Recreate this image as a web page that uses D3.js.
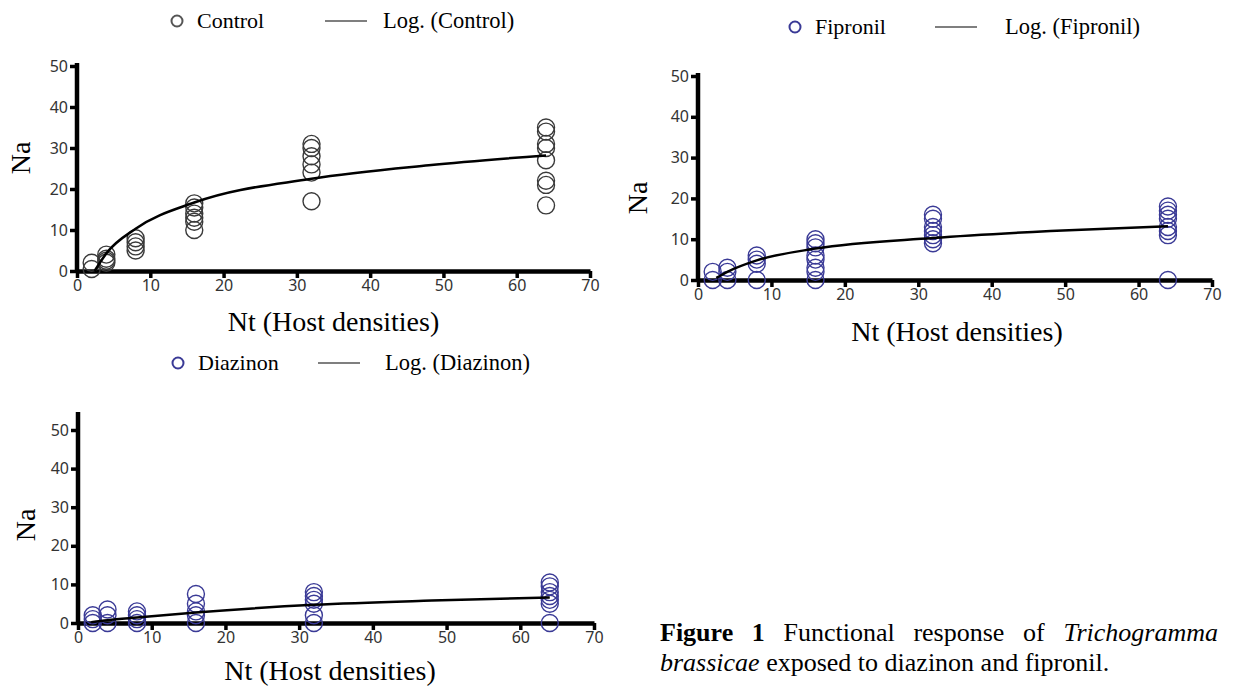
<!DOCTYPE html>
<meta charset="utf-8">
<body style="margin:0;background:#fff">
<script src="https://d3js.org/d3.v7.min.js"></script>
<script>
var width = 1234,
    height = 688;

// host densities offered (Nt) and parasitised hosts (Na) per density
var densities = [2, 4, 8, 16, 32, 64];

var controlNa = [[2, 0.5], [4, 3, 2.5, 2], [8, 7, 6, 5], [16.5, 15.5, 14, 13, 12, 10],
    [31, 30, 28, 26, 24, 17], [35, 34, 31, 30, 27, 22, 21, 16]];
var fipronilNa = [[2, 0], [3, 2, 0], [6, 5, 4, 0], [10, 9, 8, 6, 5, 3, 2, 0],
    [16, 15, 13, 12, 11, 10, 9], [18, 17, 16, 15, 13, 12, 11, 0]];
var diazinonNa = [[2, 1, 0], [3.5, 2, 0], [3, 2, 1, 0], [7.5, 5, 3, 2, 0],
    [8, 7, 6, 5, 2, 0], [10.5, 9.5, 8, 7, 6, 5, 0]];

// log trendlines
var controlTrendNt = [2.4, 4, 8, 16, 32, 48, 64];
var controlTrendNa = [0, 4.3, 10.3, 16.7, 22.5, 25.8, 28.2];
var fipronilTrendNt = [2.5, 4, 8, 16, 32, 48, 64];
var fipronilTrendNa = [0.5, 2, 4.8, 7.7, 10.3, 12, 13.2];
var diazinonTrendNt = [1.8, 4, 8, 16, 32, 48, 64];
var diazinonTrendNa = [0.2, 0.7, 1.4, 2.7, 4.7, 5.8, 6.6];

var xTicks = [0, 10, 20, 30, 40, 50, 60, 70];
var yTicks = [0, 10, 20, 30, 40, 50];

var svg = d3.select("body").append("svg")
    .attr("width", width)
    .attr("height", height)
    .style("font-family", "'Liberation Serif', 'Times New Roman', serif");

function panel(o) {
    var x = d3.scaleLinear().domain([0, 70]).range([o.x0, o.x1]);
    var y = d3.scaleLinear().domain([0, 50]).range([o.y0, o.y50]);
    var g = svg.append("g");

    var xa = g.append("g")
        .attr("transform", "translate(0," + o.y0 + ")")
        .call(d3.axisBottom(x).tickValues(xTicks).tickSize(7).tickSizeOuter(0).tickPadding(2));
    var ya = g.append("g")
        .attr("transform", "translate(" + o.x0 + ",0)")
        .call(d3.axisLeft(y).tickValues(yTicks).tickSize(7).tickSizeOuter(0).tickPadding(2));
    ya.select(".domain").remove();
    g.append("line")
        .attr("x1", o.x0).attr("x2", o.x0)
        .attr("y1", o.y0 + 2).attr("y2", o.yTop)
        .attr("stroke", "#000").attr("stroke-width", 4.5);
    [xa, ya].forEach(function(a) {
        a.select(".domain").attr("stroke-width", 4.5);
        a.selectAll(".tick line").attr("stroke-width", 3.5);
        a.selectAll(".tick text")
            .attr("fill", "#333")
            .style("font-family", "'Noto Sans', 'Open Sans', sans-serif")
            .style("font-size", "16px");
    });

    // scatter
    var pts = [];
    o.values.forEach(function(vals, i) {
        vals.forEach(function(v) { pts.push([densities[i], v]); });
    });
    g.selectAll("circle.pt").data(pts).enter().append("circle")
        .attr("class", "pt")
        .attr("cx", function(d) { return x(d[0]); })
        .attr("cy", function(d) { return y(d[1]); })
        .attr("r", 8.5)
        .attr("fill", "none")
        .attr("stroke", o.color)
        .attr("stroke-width", 1.4);

    // trendline
    var line = d3.line()
        .x(function(d) { return x(d[0]); })
        .y(function(d) { return y(d[1]); })
        .curve(d3.curveMonotoneX);
    g.append("path")
        .datum(d3.zip(o.trendNt, o.trendNa))
        .attr("d", line)
        .attr("fill", "none")
        .attr("stroke", "#000")
        .attr("stroke-width", 2.5);

    // axis titles
    g.append("text")
        .attr("x", (o.x0 + o.x1) / 2 + o.titleDx)
        .attr("y", o.titleY)
        .attr("text-anchor", "middle")
        .style("font-size", "28px")
        .text("Nt (Host densities)");
    g.append("text")
        .attr("transform", "translate(" + o.naX + "," + o.naY + ")rotate(-90)")
        .attr("text-anchor", "middle")
        .attr("dy", "0.35em")
        .style("font-size", "28px")
        .text("Na");

    // legend
    var lg = g.append("g").attr("transform", "translate(" + o.legX + "," + o.legY + ")");
    lg.append("circle").attr("r", 5.5).attr("fill", "none")
        .attr("stroke", o.legColor).attr("stroke-width", 2);
    lg.append("text").attr("x", 20).attr("dy", "0.32em")
        .style("font-size", "22px").text(o.name);
    lg.append("line").attr("x1", o.lineX).attr("x2", o.lineX + 42)
        .attr("stroke", "#000").attr("stroke-width", 1.2);
    lg.append("text").attr("x", o.textX).attr("dy", "0.32em")
        .style("font-size", "22.5px").text("Log. (" + o.name + ")");
}

panel({
    name: "Control", values: controlNa, trendNt: controlTrendNt, trendNa: controlTrendNa,
    color: "#3a3a3a", legColor: "#555",
    x0: 77, x1: 590, y0: 271, y50: 66, yTop: 63,
    titleDx: 0, titleY: 331, naX: 20, naY: 158,
    legX: 177, legY: 21, lineX: 148, textX: 206
});
panel({
    name: "Fipronil", values: fipronilNa, trendNt: fipronilTrendNt, trendNa: fipronilTrendNa,
    color: "#3a3a96", legColor: "#3a3a96",
    x0: 698, x1: 1212, y0: 280, y50: 76, yTop: 73,
    titleDx: 2, titleY: 341, naX: 637, naY: 198,
    legX: 795, legY: 27, lineX: 140, textX: 210
});
panel({
    name: "Diazinon", values: diazinonNa, trendNt: diazinonTrendNt, trendNa: diazinonTrendNa,
    color: "#3a3a96", legColor: "#3a3a96",
    x0: 78, x1: 594, y0: 623, y50: 430, yTop: 412,
    titleDx: -6, titleY: 680, naX: 25, naY: 525,
    legX: 178, legY: 363, lineX: 140, textX: 207
});

// caption, justified first line
var capLeft = 660, capRight = 1218;
var line1 = [
    {t: "Figure", w: "bold"}, {t: "1", w: "bold"}, {t: "Functional"}, {t: "response"},
    {t: "of"}, {t: "Trichogramma", s: "italic"}
];
var cap = svg.append("g").style("font-size", "26px");
var words = cap.selectAll("text.w1").data(line1).enter().append("text")
    .attr("class", "w1")
    .attr("y", 641)
    .style("font-weight", function(d) { return d.w || "normal"; })
    .style("font-style", function(d) { return d.s || "normal"; })
    .text(function(d) { return d.t; });
var widths = [];
words.each(function() { widths.push(this.getComputedTextLength()); });
var gap = (capRight - capLeft - d3.sum(widths)) / (widths.length - 1);
var cx = capLeft;
words.attr("x", function(d, i) { var v = cx; cx += widths[i] + gap; return v; });

var l2 = cap.append("text").attr("x", capLeft).attr("y", 671);
l2.append("tspan").style("font-style", "italic").text("brassicae");
l2.append("tspan").text(" exposed to diazinon and fipronil.");
</script>
</html>
